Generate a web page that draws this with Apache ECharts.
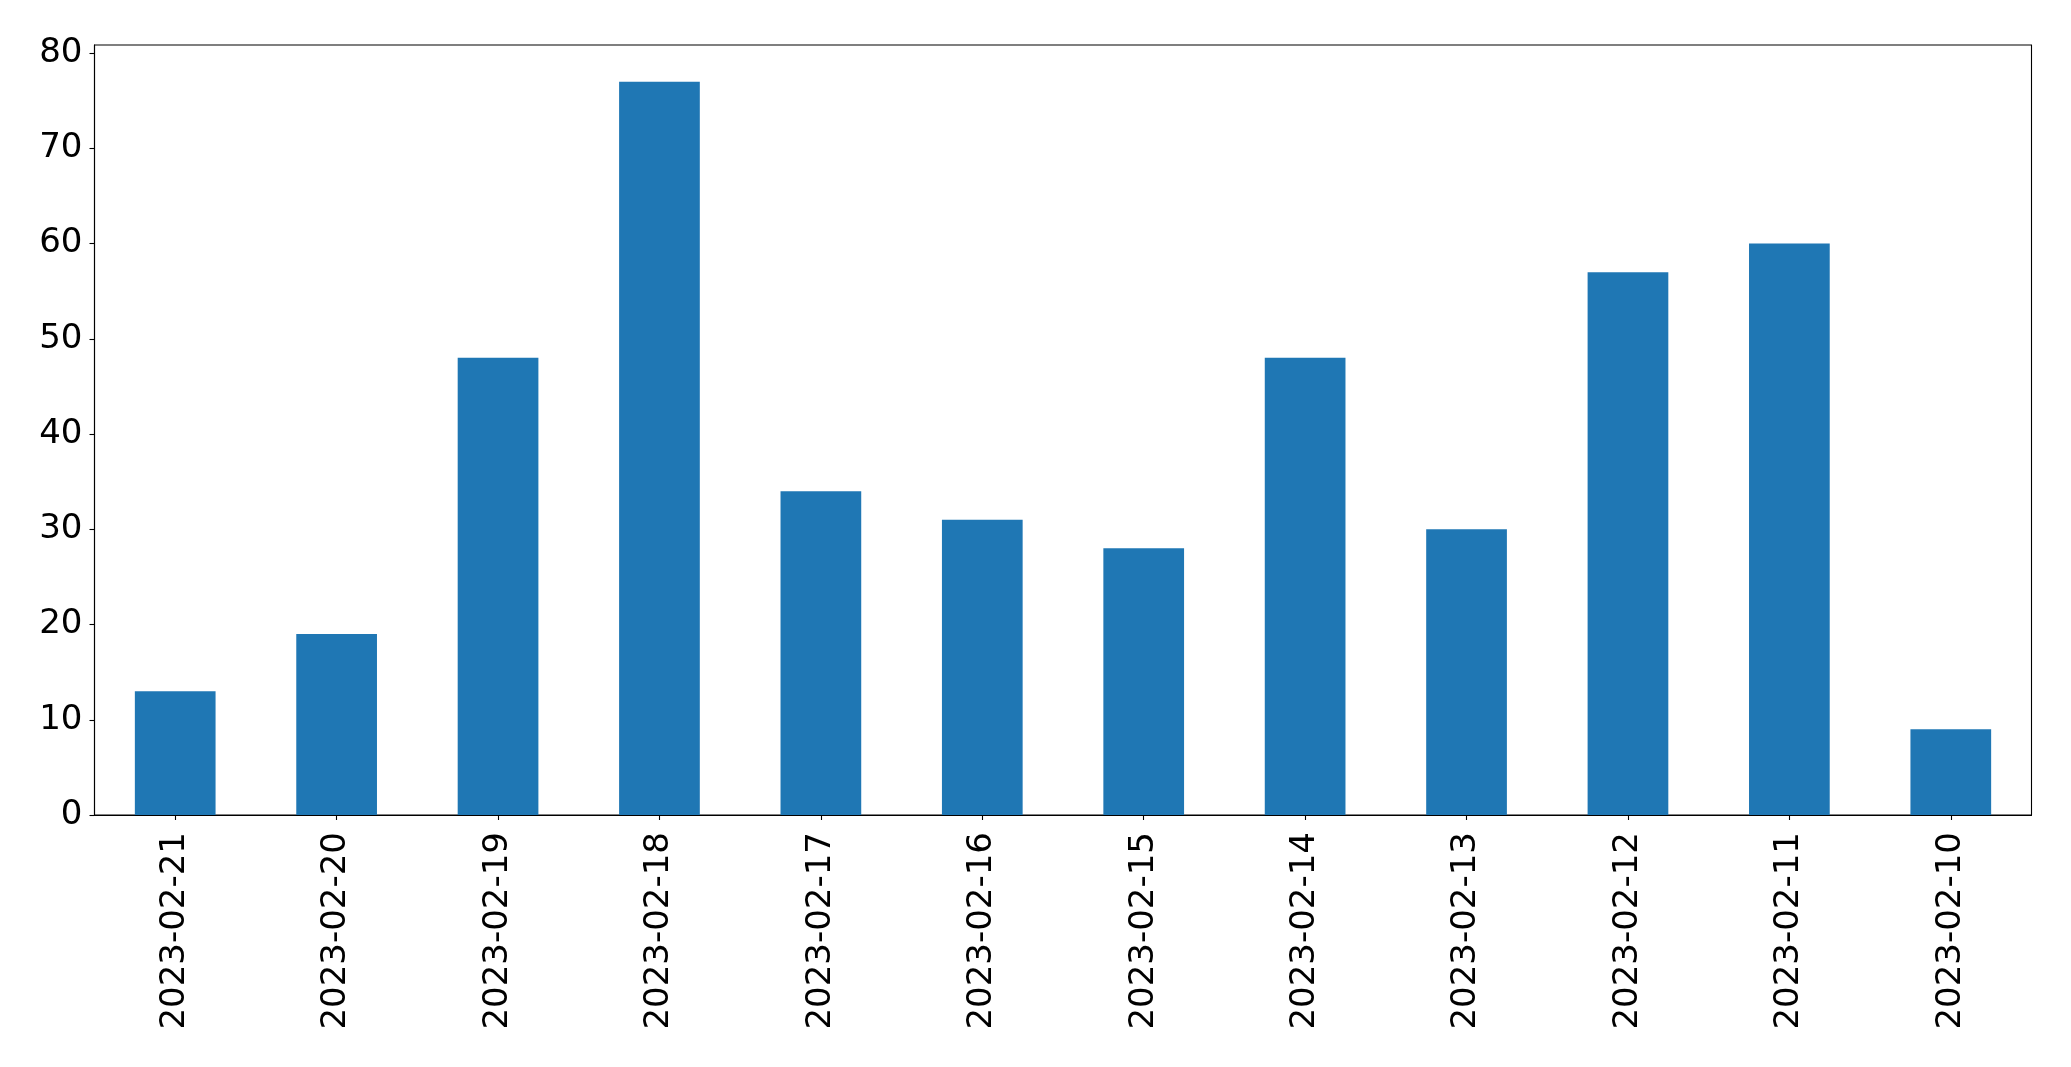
<!DOCTYPE html>
<html>
<head>
<meta charset="utf-8">
<script src="https://cdn.jsdelivr.net/npm/echarts@6/dist/echarts.min.js"></script>
<style>
html,body{margin:0;padding:0;background:#fff;}
#chart{width:2071px;height:1067px;}
</style>
</head>
<body>
<div id="chart"></div>
<script>
const categories = ['2023-02-21','2023-02-20','2023-02-19','2023-02-18','2023-02-17','2023-02-16','2023-02-15','2023-02-14','2023-02-13','2023-02-12','2023-02-11','2023-02-10'];
const values = [13, 19, 48, 77, 34, 31, 28, 48, 30, 57, 60, 9];
const yTicks = [0, 10, 20, 30, 40, 50, 60, 70, 80];

const chart = echarts.init(document.getElementById('chart'), null, {renderer: 'canvas'});
const font = 'DejaVu Sans';
chart.setOption({
  animation: false,
  backgroundColor: '#ffffff',
  grid: {
    left: 94.5, top: 45, right: 39.5, bottom: 252,
    show: true, borderColor: '#000', borderWidth: 1.1, backgroundColor: 'transparent'
  },
  xAxis: {
    type: 'category',
    data: categories,
    axisLine: {show: true, lineStyle: {color: '#000', width: 1.1}},
    axisTick: {show: true, alignWithLabel: true, length: 5, lineStyle: {color: '#000', width: 1.1}},
    axisLabel: {rotate: 90, margin: 17, color: '#000', fontFamily: font, fontSize: 34, interval: 0}
  },
  yAxis: {
    type: 'value',
    min: 0, max: 80.85, interval: 10,
    splitLine: {show: false},
    axisLine: {show: true, lineStyle: {color: '#000', width: 1.1}},
    axisTick: {show: true, length: 5, lineStyle: {color: '#000', width: 1.1}, customValues: yTicks},
    axisLabel: {color: '#000', fontFamily: font, fontSize: 34, margin: 12, customValues: yTicks}
  },
  series: [{
    type: 'bar',
    data: values,
    barWidth: '50%',
    itemStyle: {color: '#1f77b4'}
  }]
});
</script>
</body>
</html>
